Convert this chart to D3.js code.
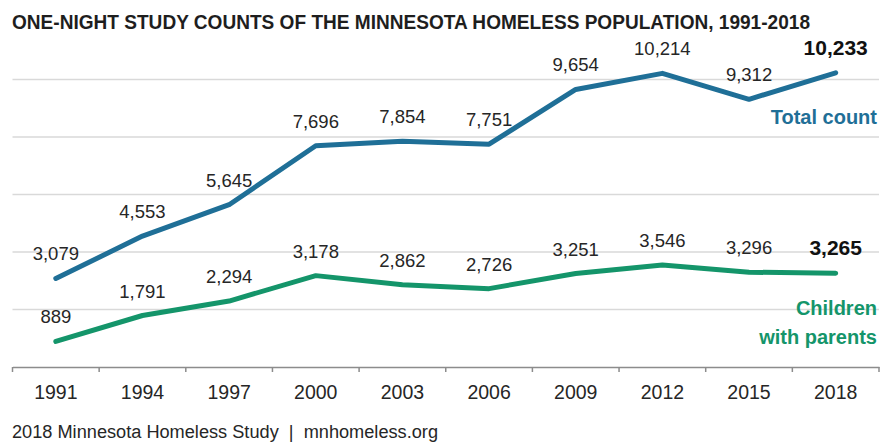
<!DOCTYPE html>
<html>
<head>
<meta charset="utf-8">
<script src="https://cdn.jsdelivr.net/npm/d3@7"></script>
<style>
  html, body { margin: 0; padding: 0; background: #fff; }
  svg { display: block; font-family: "Liberation Sans", Arial, sans-serif; }
</style>
</head>
<body>
<svg id="chart" width="881" height="443"></svg>
<script>
const years = ["1991","1994","1997","2000","2003","2006","2009","2012","2015","2018"];
const totalCount = [3079, 4553, 5645, 7696, 7854, 7751, 9654, 10214, 9312, 10233];
const childrenWithParents = [889, 1791, 2294, 3178, 2862, 2726, 3251, 3546, 3296, 3265];
const yTicks = [0, 2000, 4000, 6000, 8000, 10000];
const titleText = "ONE-NIGHT STUDY COUNTS OF THE MINNESOTA HOMELESS POPULATION, 1991-2018";
const sourceText = "2018 Minnesota Homeless Study  |  mnhomeless.org";

const svg = d3.select("#chart");
const x = d3.scaleBand().domain(years).range([12.5, 879]).padding(0);
const y = d3.scaleLinear().domain([0, 10000]).range([367, 79.5]);
const fmt = d3.format(",");

// title
svg.append("text").attr("x", 12).attr("y", 29)
  .attr("font-size", 19.5).attr("font-weight", "bold").attr("fill", "#1e1e1e")
  .attr("textLength", 798).attr("lengthAdjust", "spacingAndGlyphs")
  .text(titleText);

// gridlines
svg.append("g").selectAll("line").data(yTicks.filter(d => d > 0)).join("line")
  .attr("x1", 12.5).attr("x2", 879)
  .attr("y1", d => y(d)).attr("y2", d => y(d))
  .attr("stroke", "#d9d9d9").attr("stroke-width", 1.5);

// x axis
const xAxis = d3.axisBottom(x).tickSize(0).tickPadding(0);
const gx = svg.append("g").attr("transform", `translate(0,${y(0)})`).call(xAxis);
gx.select(".domain").attr("stroke", "#8c8c8c").attr("stroke-width", 1.5);
gx.selectAll(".tick text").attr("font-size", 19.5).attr("fill", "#262626")
  .attr("font-family", "Liberation Sans, Arial, sans-serif").attr("dy", 0).attr("y", 32);
// tick marks on band boundaries
const bounds = years.map(d => x(d)).concat([x(years[years.length - 1]) + x.bandwidth()]);
gx.append("g").selectAll("line").data(bounds).join("line")
  .attr("x1", d => d).attr("x2", d => d).attr("y1", 0).attr("y2", 5)
  .attr("stroke", "#8c8c8c").attr("stroke-width", 1.5);

const cx = d => x(d) + x.bandwidth() / 2;

function drawSeries(values, color) {
  const line = d3.line().x((d, i) => cx(years[i])).y(d => y(d));
  svg.append("path").datum(values).attr("d", line)
    .attr("fill", "none").attr("stroke", color).attr("stroke-width", 5)
    .attr("stroke-linejoin", "round").attr("stroke-linecap", "round");
  svg.append("g").selectAll("text").data(values).join("text")
    .attr("x", (d, i) => cx(years[i]))
    .attr("y", d => y(d) - 18)
    .attr("text-anchor", "middle")
    .attr("font-size", (d, i) => i === values.length - 1 ? 21 : 18.5)
    .attr("font-weight", (d, i) => i === values.length - 1 ? "bold" : "normal")
    .attr("fill", (d, i) => i === values.length - 1 ? "#111" : "#262626")
    .text(d => fmt(d));
}
drawSeries(totalCount, "#1f6f97");
drawSeries(childrenWithParents, "#14956a");

// series labels
svg.append("text").attr("x", 877).attr("y", 124).attr("text-anchor", "end")
  .attr("font-size", 20).attr("font-weight", "bold").attr("fill", "#1f6f97")
  .text("Total count");
const cl = svg.append("text").attr("text-anchor", "end")
  .attr("font-size", 20).attr("font-weight", "bold").attr("fill", "#14956a");
cl.append("tspan").attr("x", 877).attr("y", 315).text("Children");
cl.append("tspan").attr("x", 877).attr("y", 344).text("with parents");

// source
svg.append("text").attr("x", 12).attr("y", 438)
  .attr("font-size", 18).attr("fill", "#262626")
  .attr("textLength", 426).attr("lengthAdjust", "spacingAndGlyphs")
  .attr("xml:space", "preserve")
  .text(sourceText);
</script>
</body>
</html>
